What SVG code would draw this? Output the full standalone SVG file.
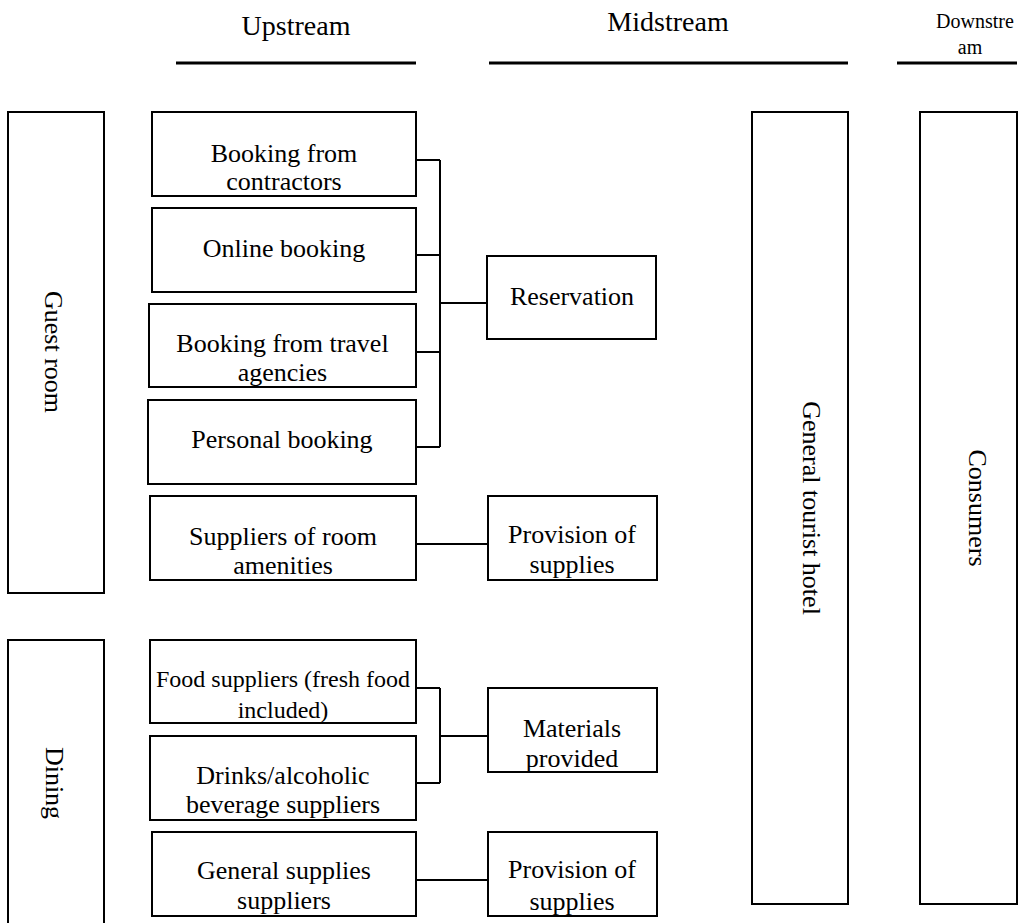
<svg xmlns="http://www.w3.org/2000/svg" width="1019" height="923" viewBox="0 0 1019 923">
<style>
.box{fill:#fff;stroke:#000;stroke-width:2}
.t{font-family:"Liberation Serif","Times New Roman",serif;font-size:26px;fill:#000;text-anchor:middle}
.s{font-size:24px}
.h{font-size:28px}
.d{font-size:20px}
.hl{stroke:#000;stroke-width:3}
.c{fill:none;stroke:#000;stroke-width:2}
</style>
<rect width="1019" height="923" fill="#fff"/>
<g id="headers">
<text class="t h" x="296" y="35">Upstream</text>
<line class="hl" x1="176" y1="63" x2="416" y2="63"/>
<text class="t h" x="668" y="31">Midstream</text>
<line class="hl" x1="489" y1="63" x2="848" y2="63"/>
<text class="t d" x="975" y="28">Downstre</text>
<text class="t d" x="970" y="54">am</text>
<line class="hl" x1="897" y1="63" x2="1017" y2="63"/>
</g>
<g id="connectors">
<path class="c" d="M416 160H440M416 255H440M416 352H440M416 447H440M440 160V447M440 303H487"/>
<path class="c" d="M416 544H488"/>
<path class="c" d="M416 688H440M416 783H440M440 688V783M440 736H488"/>
<path class="c" d="M416 880H488"/>
</g>
<g id="guest-room">
<rect class="box" x="8" y="112" width="96" height="481"/>
<text class="t" transform="translate(45,352) rotate(90)" x="0" y="0">Guest room</text>
</g>
<g id="dining">
<rect class="box" x="8" y="640" width="96" height="290"/>
<text class="t" transform="translate(46,783) rotate(90)" x="0" y="0">Dining</text>
</g>
<g id="booking-contractors">
<rect class="box" x="152" y="112" width="264" height="84"/>
<text class="t" x="284" y="162">Booking from</text>
<text class="t" x="284" y="190">contractors</text>
</g>
<g id="online-booking">
<rect class="box" x="152" y="208" width="264" height="84"/>
<text class="t" x="284" y="257">Online booking</text>
</g>
<g id="booking-travel">
<rect class="box" x="149" y="304" width="267" height="83"/>
<text class="t" x="282.500" y="352">Booking from travel</text>
<text class="t" x="282.500" y="381">agencies</text>
</g>
<g id="personal-booking">
<rect class="box" x="148" y="400" width="268" height="84"/>
<text class="t" x="282" y="448">Personal booking</text>
</g>
<g id="room-amenities">
<rect class="box" x="150" y="496" width="266" height="84"/>
<text class="t" x="283" y="545">Suppliers of room</text>
<text class="t" x="283" y="574">amenities</text>
</g>
<g id="food-suppliers">
<rect class="box" x="150" y="640" width="266" height="83"/>
<text class="t s" x="283" y="687">Food suppliers (fresh food</text>
<text class="t s" x="283" y="718">included)</text>
</g>
<g id="drinks-suppliers">
<rect class="box" x="150" y="736" width="266" height="84"/>
<text class="t" x="283" y="784">Drinks/alcoholic</text>
<text class="t" x="283" y="813">beverage suppliers</text>
</g>
<g id="general-supplies">
<rect class="box" x="152" y="832" width="264" height="84"/>
<text class="t" x="284" y="879">General supplies</text>
<text class="t" x="284" y="909">suppliers</text>
</g>
<g id="reservation">
<rect class="box" x="487" y="256" width="169" height="83"/>
<text class="t" x="572" y="305">Reservation</text>
</g>
<g id="provision-1">
<rect class="box" x="488" y="496" width="169" height="84"/>
<text class="t" x="572" y="543">Provision of</text>
<text class="t" x="572" y="573">supplies</text>
</g>
<g id="materials">
<rect class="box" x="488" y="688" width="169" height="84"/>
<text class="t" x="572" y="737">Materials</text>
<text class="t" x="572" y="767">provided</text>
</g>
<g id="provision-2">
<rect class="box" x="488" y="832" width="169" height="84"/>
<text class="t" x="572" y="878">Provision of</text>
<text class="t" x="572" y="910">supplies</text>
</g>
<g id="hotel">
<rect class="box" x="752" y="112" width="96" height="792"/>
<text class="t" transform="translate(803,508) rotate(90)" x="0" y="0">General tourist hotel</text>
</g>
<g id="consumers">
<rect class="box" x="920" y="112" width="97" height="792"/>
<text class="t" transform="translate(969,508) rotate(90)" x="0" y="0">Consumers</text>
</g>
</svg>
